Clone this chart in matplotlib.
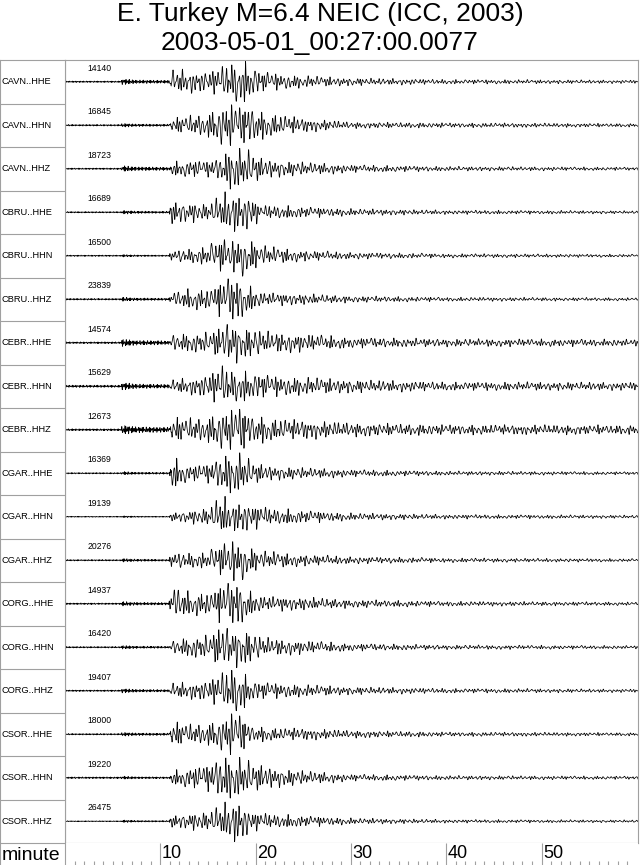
import numpy as np
import matplotlib
matplotlib.use("Agg")
import matplotlib.pyplot as plt

plt.rcParams['font.family'] = ['Liberation Sans', 'DejaVu Sans']

# station / channel names and max counts shown above each trace
stations = ['CAVN..HHE', 'CAVN..HHN', 'CAVN..HHZ',
            'CBRU..HHE', 'CBRU..HHN', 'CBRU..HHZ',
            'CEBR..HHE', 'CEBR..HHN', 'CEBR..HHZ',
            'CGAR..HHE', 'CGAR..HHN', 'CGAR..HHZ',
            'CORG..HHE', 'CORG..HHN', 'CORG..HHZ',
            'CSOR..HHE', 'CSOR..HHN', 'CSOR..HHZ']
max_counts = [14140, 16845, 18723, 16689, 16500, 23839, 14574, 15629, 12673,
              16369, 19139, 20276, 14937, 16420, 19407, 18000, 19220, 26475]

# envelope (fraction of the trace peak)
noise_amp = [0.03, 0.03, 0.03, 0.03, 0.03, 0.03, 0.04, 0.04, 0.04,
             0.03, 0.02, 0.03, 0.03, 0.03, 0.03, 0.03, 0.03, 0.02]
p_amp = [0.12, 0.08, 0.13, 0.09, 0.06, 0.08, 0.17, 0.13, 0.20,
         0.08, 0.04, 0.08, 0.09, 0.08, 0.09, 0.09, 0.06, 0.06]
surf_minutes = [11.2, 13, 15, 16.5, 17.5, 18.5, 19.5, 20.5, 21.5, 25, 30, 40, 60]
surf_amp = [
    [0.55, 0.50, 0.45, 0.70, 0.85, 1.00, 0.80, 0.50, 0.40, 0.27, 0.17, 0.10, 0.07],
    [0.30, 0.40, 0.50, 0.90, 0.90, 0.80, 0.90, 0.60, 0.50, 0.30, 0.13, 0.10, 0.07],
    [0.30, 0.40, 0.35, 0.60, 1.00, 0.90, 0.80, 0.50, 0.40, 0.30, 0.17, 0.10, 0.07],
    [0.60, 0.50, 0.40, 0.90, 1.00, 0.90, 0.90, 0.30, 0.35, 0.27, 0.17, 0.10, 0.07],
    [0.30, 0.35, 0.50, 0.90, 0.80, 1.00, 0.80, 0.55, 0.45, 0.27, 0.17, 0.10, 0.07],
    [0.30, 0.40, 0.45, 0.70, 1.00, 0.80, 0.50, 0.30, 0.25, 0.22, 0.13, 0.08, 0.06],
    [0.40, 0.45, 0.50, 0.80, 1.00, 0.80, 0.70, 0.60, 0.50, 0.42, 0.25, 0.18, 0.16],
    [0.25, 0.30, 0.45, 0.80, 0.60, 0.60, 0.55, 0.50, 0.40, 0.34, 0.25, 0.16, 0.15],
    [0.55, 0.50, 0.55, 0.90, 0.90, 1.00, 0.70, 0.60, 0.50, 0.42, 0.30, 0.22, 0.20],
    [0.80, 0.40, 0.45, 0.90, 1.00, 1.00, 0.60, 0.45, 0.35, 0.27, 0.17, 0.10, 0.07],
    [0.20, 0.30, 0.40, 1.00, 0.60, 0.80, 0.60, 0.50, 0.40, 0.30, 0.17, 0.10, 0.07],
    [0.40, 0.35, 0.40, 0.80, 1.00, 0.90, 0.60, 0.45, 0.40, 0.27, 0.17, 0.10, 0.07],
    [0.80, 0.50, 0.50, 0.80, 1.00, 0.90, 0.50, 0.35, 0.30, 0.27, 0.17, 0.10, 0.07],
    [0.30, 0.45, 0.55, 1.00, 0.80, 0.90, 0.70, 0.50, 0.40, 0.30, 0.17, 0.10, 0.07],
    [0.35, 0.35, 0.45, 0.80, 1.00, 0.90, 0.50, 0.40, 0.35, 0.27, 0.17, 0.10, 0.07],
    [0.60, 0.45, 0.50, 0.80, 1.00, 0.90, 0.40, 0.35, 0.30, 0.27, 0.17, 0.10, 0.07],
    [0.25, 0.40, 0.50, 0.90, 0.80, 0.80, 0.60, 0.50, 0.40, 0.27, 0.13, 0.08, 0.06],
    [0.30, 0.40, 0.45, 0.80, 1.00, 1.00, 0.50, 0.40, 0.35, 0.27, 0.15, 0.08, 0.06],
]

W, H = 640, 865
fig = plt.figure(figsize=(W / 100, H / 100), dpi=100)
frame_col = '#a0a0a0'

x0, x1 = 65, 638          # plot area in pixels
y_top, y_bot = 60, 843
ax = fig.add_axes([x0 / W, (H - y_bot) / H, (x1 - x0) / W, (y_bot - y_top) / H])
lab = fig.add_axes([0, (H - y_bot) / H, x0 / W, (y_bot - y_top) / H])
bax = fig.add_axes([x0 / W, 0, (x1 - x0) / W, (H - y_bot) / H])

n = len(stations)
dt = 0.02
t = np.arange(0, 60.2, dt)
for i in range(n):
    # envelope from the read values
    kt = [0, 5.9, 6.0, 7.5, 10.9] + surf_minutes
    kv = [noise_amp[i], noise_amp[i], p_amp[i], p_amp[i] * 0.6, p_amp[i] * 0.5] + surf_amp[i]
    env = np.interp(t, kt, kv)
    ph = 0.9 * i + 0.3
    # wiggle under the envelope: wandering frequency and uneven peaks
    f_low = 2.9 + 0.9 * np.sin(2 * np.pi * t / 1.7 + ph) + 0.6 * np.sin(2 * np.pi * t / 0.63 + 2 * ph)
    f_high = 7.5 + 2.0 * np.sin(2 * np.pi * t / 0.8 + ph)
    low = np.sin(2 * np.pi * np.cumsum(f_low) * dt + ph)
    low *= 0.5 + 0.3 * np.sin(2 * np.pi * t / 0.47 + ph) + 0.2 * np.sin(2 * np.pi * t / 1.1 + 2 * ph)
    high = np.sin(2 * np.pi * np.cumsum(f_high) * dt + ph)
    high *= 0.6 + 0.4 * np.sin(2 * np.pi * t / 0.37 + ph)
    mix = np.clip((t - 10.8) / 0.4, 0, 1)
    w = env * ((1 - mix) * high + mix * low)
    w = w / np.max(np.abs(w))
    ax.plot(t, i + 0.5 - 0.47 * w, color='black', lw=0.55)
    ax.text(2.4, i + 0.19, str(max_counts[i]), fontsize=6.2, va='center', ha='left')

ax.set_xlim(0, (x1 - x0) / 9.53)
ax.set_ylim(n, 0)
ax.set_xticks([])
ax.set_yticks([])
for s in ax.spines.values():
    s.set_color(frame_col)
    s.set_linewidth(0.8)

# station label column
lab.set_xlim(0, 1)
lab.set_ylim(n, 0)
lab.hlines(np.arange(1, n), 0, 1, color=frame_col, lw=0.8)
for i, name in enumerate(stations):
    lab.text(0.03, i + 0.5, name, fontsize=6.7, va='center', ha='left')
lab.set_xticks([])
lab.set_yticks([])
for s in lab.spines.values():
    s.set_color(frame_col)
    s.set_linewidth(0.8)

# time axis strip
major = [10, 20, 30, 40, 50]
minor = [m for m in range(1, 61) if m % 10]
bax.set_xlim(ax.get_xlim())
bax.set_ylim(0, 1)
bax.vlines(major, 0, 1, color=frame_col, lw=0.8)
bax.vlines(minor, 0, 0.2, color=frame_col, lw=0.8)
for m in major:
    bax.text(m + 0.15, 0.93, str(m), fontsize=13, va='top', ha='left')
bax.set_xticks([])
bax.set_yticks([])
for s in bax.spines.values():
    s.set_visible(False)
bax.spines['left'].set_visible(True)
bax.spines['left'].set_color(frame_col)
fig.text(2 / W, 1 - 855 / H, 'minute', fontsize=14, va='center', ha='left')
fig.add_artist(plt.Line2D([0, 0], [0, 1 - y_bot / H], color=frame_col, lw=0.8))

fig.text(0.5, 1 - 14 / H, 'E. Turkey M=6.4 NEIC (ICC, 2003)', fontsize=19, ha='center', va='center')
fig.text(0.5, 1 - 43 / H, '2003-05-01_00:27:00.0077', fontsize=19, ha='center', va='center')

fig.savefig('out.png', dpi=100)
